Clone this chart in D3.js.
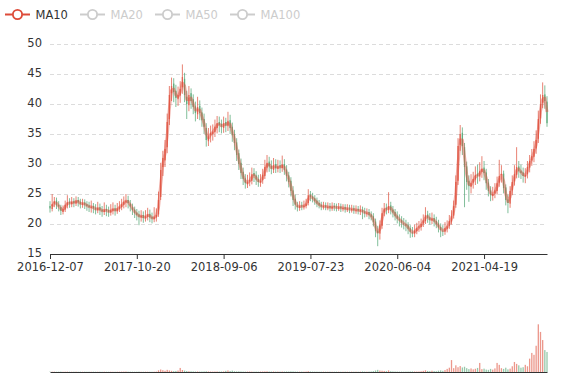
<!DOCTYPE html>
<html><head><meta charset="utf-8">
<script src="https://cdn.jsdelivr.net/npm/d3@7"></script>
<style>body{margin:0;background:#fff}svg{display:block}text{font-family:'DejaVu Sans',sans-serif}</style>
</head><body><svg id="c" width="577" height="380"></svg>
<script>
// Each candle summarises about one trading week
const tickLabels = ['2016-12-07','2017-10-20','2018-09-06','2019-07-23','2020-06-04','2021-04-19'];
const tickIndex = [0, 40, 80, 120, 160, 200];
const yTicks = [15, 20, 25, 30, 35, 40, 45, 50];
const legendNames = ['MA10', 'MA20', 'MA50', 'MA100'];
const legendShown = [true, false, false, false];
const maCandles = 2; // MA10 = 10 sessions = 2 weekly candles

const opens = [
23.0,22.5,23.4,23.9,23.2,22.8,22.0,22.4,23.1,23.7,
23.3,23.8,23.4,24.0,23.7,23.2,23.6,23.3,23.1,22.7,
23.0,22.7,22.3,22.8,22.4,22.0,22.5,22.3,21.9,22.2,
22.6,22.1,22.5,22.8,23.2,23.6,24.0,23.4,22.8,22.4,
21.9,21.6,21.1,21.5,20.9,21.2,21.7,21.2,20.8,21.1,
21.6,24.5,29.5,30.6,32.8,37.5,41.8,43.4,42.2,40.8,
41.4,42.8,44.2,41.2,39.8,41.8,40.8,39.6,38.3,39.7,
38.6,37.5,36.0,33.8,34.8,35.0,35.3,36.0,37.0,36.7,
36.0,37.0,36.3,37.3,36.2,35.0,33.6,31.8,30.2,28.7,
27.6,26.6,27.1,27.2,28.5,28.1,27.5,26.9,27.3,28.0,
29.4,30.4,29.7,29.0,30.0,29.2,29.8,29.3,30.0,29.1,
28.1,27.2,25.6,24.2,23.1,22.7,23.1,22.8,23.0,23.5,
24.9,24.6,24.3,23.9,23.5,23.2,22.8,23.1,22.7,23.0,
22.6,23.0,22.9,22.6,22.9,22.5,22.8,22.4,22.7,22.3,
22.6,22.2,22.5,22.1,22.4,22.1,21.7,22.0,21.6,21.3,
20.4,18.9,18.4,19.7,21.9,22.7,22.3,23.1,22.4,22.0,
21.4,20.8,20.7,20.1,20.0,19.8,19.3,18.6,18.4,18.8,
19.4,19.5,20.1,20.5,21.6,21.1,20.6,21.0,20.5,20.1,
19.5,18.9,18.7,19.2,19.7,20.4,21.4,23.2,27.2,33.2,
35.2,32.8,29.6,27.2,26.2,26.9,27.4,28.4,27.9,28.7,
29.4,28.6,26.9,25.6,24.7,25.1,25.5,26.9,28.2,28.4,
26.1,24.1,23.4,25.6,27.1,28.2,29.6,28.9,28.6,27.9,
28.3,29.4,30.6,31.2,32.6,34.2,37.6,40.2,41.6,40.4];

const closes = [
22.6,23.3,23.8,23.1,22.9,22.2,22.5,23.2,23.6,23.4,
23.7,23.5,23.9,23.6,23.3,23.5,23.2,23.0,22.8,22.9,
22.6,22.4,22.7,22.3,22.1,22.4,22.2,22.0,22.3,22.5,
22.2,22.6,22.9,23.3,23.7,23.9,23.5,22.9,22.3,21.8,
21.5,21.2,21.4,21.0,21.3,21.6,21.1,20.9,21.2,21.5,
24.0,29.0,31.0,32.5,37.0,41.5,43.0,42.0,41.0,41.5,
42.5,44.5,41.5,40.0,41.5,40.5,39.5,38.5,39.5,38.5,
37.3,36.2,34.0,34.6,35.2,35.4,36.2,36.8,36.5,36.2,
36.8,36.4,37.2,36.0,34.8,33.5,31.5,30.0,28.5,27.5,
26.8,27.0,27.3,28.3,28.0,27.4,27.0,27.2,28.2,29.5,
30.2,29.6,29.2,29.8,29.3,29.6,29.4,29.9,29.0,28.0,
27.0,25.5,24.0,23.2,22.8,23.0,22.9,23.1,23.4,24.8,
24.5,24.2,23.8,23.4,23.1,22.9,23.0,22.8,22.9,22.7,
22.9,22.8,22.7,22.8,22.6,22.7,22.5,22.6,22.4,22.5,
22.3,22.4,22.2,22.3,22.0,21.8,21.9,21.5,21.2,20.3,
18.8,18.5,19.8,21.8,22.6,22.4,23.0,22.3,21.9,21.3,
20.9,20.6,20.2,20.0,19.7,19.2,18.7,18.5,18.9,19.3,
19.6,20.0,20.6,21.5,21.0,20.7,20.9,20.4,20.0,19.4,
19.0,18.8,19.3,19.6,20.5,21.3,23.0,27.0,33.0,35.0,
33.0,29.5,27.0,26.3,26.8,27.5,28.2,28.0,28.8,29.2,
28.5,26.8,25.5,24.8,25.0,25.6,26.8,28.0,28.3,26.0,
24.0,23.5,25.5,27.0,28.3,29.5,28.8,28.5,28.0,28.2,
29.5,30.5,31.3,32.5,34.0,37.5,40.0,41.5,40.5,36.8];

const lows = [
21.9,22.1,22.8,22.5,22.1,21.5,21.6,22.0,22.6,22.7,
22.8,22.8,23.0,22.9,22.6,22.7,22.5,22.2,22.0,21.9,
21.8,21.6,21.8,21.5,21.2,21.5,21.3,21.2,21.4,21.6,
21.4,21.7,22.0,22.3,22.6,22.8,22.6,22.1,21.5,21.0,
20.6,19.8,20.4,20.2,20.4,20.6,20.3,20.1,20.3,20.4,
21.2,24.0,28.0,29.5,31.8,36.5,40.5,40.3,39.5,39.7,
40.2,41.7,40.3,37.5,38.8,39.2,38.3,37.1,37.5,37.3,
36.2,35.0,32.9,33.0,33.6,33.9,34.5,35.1,35.3,35.1,
35.2,35.3,35.5,35.0,33.7,32.3,30.5,29.0,27.5,26.5,
25.9,26.0,26.3,26.6,27.0,26.5,26.2,26.2,26.7,27.5,
28.6,28.7,28.3,28.5,28.5,28.6,28.5,28.7,28.2,27.1,
26.1,24.6,23.0,22.4,22.1,22.2,22.3,22.4,22.6,23.1,
23.8,23.6,23.2,22.8,22.6,22.3,22.4,22.3,22.3,22.1,
22.2,22.2,22.1,22.2,22.0,22.1,21.9,22.0,21.8,21.9,
21.7,21.7,21.6,21.5,20.8,21.1,21.2,20.8,20.6,19.6,
17.8,16.3,17.4,19.2,21.3,21.6,21.8,21.6,21.1,20.6,
20.1,19.6,19.4,19.1,18.8,18.3,17.7,17.8,17.8,18.3,
18.7,18.9,19.5,20.0,20.2,19.9,20.0,19.6,19.3,18.6,
17.8,18.0,18.2,18.6,19.2,19.9,20.9,22.7,26.5,32.2,
31.5,22.8,25.7,23.7,25.1,25.9,26.5,26.7,27.1,27.7,
27.3,25.7,24.6,23.8,23.9,24.3,24.9,26.2,26.9,25.1,
23.1,21.8,22.7,24.8,26.4,27.6,27.7,27.5,26.9,26.8,
27.6,28.6,29.7,30.3,31.7,33.5,36.7,39.3,39.2,36.2];

const highs = [
23.8,25.0,24.5,24.4,23.8,23.2,23.1,23.9,24.8,24.3,
24.5,24.3,24.6,24.5,24.2,24.2,24.1,23.8,23.7,23.9,
23.5,23.3,23.7,23.4,23.0,23.6,23.2,22.9,23.3,23.6,
23.2,23.5,23.8,24.2,24.6,25.0,24.7,24.0,23.4,22.9,
22.5,22.2,22.3,22.1,22.3,22.7,22.4,21.9,22.8,22.6,
25.4,30.2,32.2,34.0,38.4,43.0,44.4,44.3,43.2,42.9,
43.8,46.6,45.2,42.2,43.0,42.6,41.6,40.4,41.2,40.6,
39.4,38.4,36.8,36.0,36.4,36.6,37.4,38.0,37.9,37.4,
37.9,37.7,38.7,38.2,36.9,35.7,34.3,32.4,30.9,29.4,
28.3,28.2,28.6,29.4,29.3,28.8,28.2,28.3,29.2,30.7,
31.5,31.2,30.6,31.0,30.8,30.7,30.6,31.4,30.8,29.8,
28.7,27.8,26.3,24.9,23.7,23.8,23.7,23.9,24.2,25.8,
25.5,25.2,24.8,24.4,24.0,23.7,23.7,23.6,23.6,23.5,
23.6,23.5,23.4,23.5,23.4,23.3,23.3,23.3,23.2,23.2,
23.1,23.1,23.0,23.1,22.9,22.7,22.6,22.5,22.1,21.8,
20.9,19.7,20.6,22.7,23.5,23.4,25.3,23.7,23.0,22.5,
22.1,21.6,21.3,21.0,20.7,20.3,19.8,19.5,19.9,20.2,
20.5,20.9,21.6,22.8,22.2,21.8,21.9,21.6,21.2,20.7,
20.1,19.8,20.3,20.6,21.5,22.3,23.9,28.1,34.3,36.5,
36.1,33.5,30.4,28.1,28.3,28.7,29.6,29.9,30.3,31.3,
30.5,29.2,27.5,26.3,26.2,26.8,27.9,30.7,29.8,28.9,
26.6,24.9,26.3,28.1,29.8,32.8,30.5,29.9,29.4,29.3,
30.5,31.5,32.5,33.8,35.6,38.9,41.6,43.6,43.1,41.3];

const volumes = [
0.8,0.6,0.7,0.5,0.6,0.8,0.5,0.6,0.7,0.6,
0.5,0.6,0.7,0.5,0.6,0.5,0.6,0.5,0.6,0.5,
0.6,0.5,0.5,0.6,0.5,0.6,0.5,0.5,0.6,0.5,
0.5,0.6,0.6,0.7,0.8,1.0,0.7,0.6,0.6,0.5,
0.6,0.8,0.5,0.5,0.6,0.5,0.5,0.5,0.6,0.8,
3.5,5.2,3.8,2.6,4.5,3.2,2.4,1.8,2.2,3.0,
8.5,4.2,3.0,2.0,1.6,1.4,1.2,1.0,1.1,0.9,
1.0,1.2,1.5,1.1,0.9,0.8,1.0,1.1,0.9,1.0,
1.2,2.4,3.2,2.0,2.8,1.6,1.2,1.4,1.1,0.9,
0.8,0.9,1.0,0.8,0.7,0.8,0.7,0.9,1.0,1.2,
1.4,1.0,0.9,1.1,0.8,0.9,0.8,1.0,0.9,1.1,
1.0,1.3,1.2,0.9,0.8,0.7,0.8,0.7,0.9,1.6,
1.0,0.8,0.7,0.7,0.6,0.6,0.7,0.6,0.6,0.7,
0.6,0.6,0.7,0.6,0.6,0.6,0.7,0.6,0.6,0.7,
0.6,0.7,0.6,0.7,1.2,0.8,0.7,0.9,1.1,1.8,
3.2,4.5,3.0,2.6,2.2,1.8,3.4,1.6,1.2,1.0,
0.9,0.8,0.8,0.7,0.8,0.9,1.1,1.2,1.0,0.9,
1.0,1.5,2.4,3.6,2.2,1.8,2.6,1.9,1.6,2.8,
3.4,2.5,4.0,6.5,9.0,25.0,8.0,14.0,10.0,12.5,
9.5,11.0,8.0,6.0,7.5,5.5,6.8,8.5,19.0,6.0,
7.0,5.0,4.5,6.5,5.0,7.5,19.0,15.0,8.0,6.5,
9.0,5.5,7.0,12.0,21.0,17.0,14.0,9.0,10.0,15.0,
12.0,28.0,40.0,36.0,55.0,100,84,67,46,42];

const upColor = '#e0533f', downColor = '#52a673', maColor = '#dd4b39';
const FONT = "'DejaVu Sans',sans-serif", FS = 11.5;
const N = closes.length;
const svg = d3.select('#c');

const x = d3.scalePoint().domain(d3.range(N)).range([50, 547]);
const y = d3.scaleLinear().domain([15, 50]).range([254, 44]);
const yv = d3.scaleLinear().domain([0, 130]).range([372, 310]);

// split lines
svg.append('g').selectAll('line').data(yTicks.slice(1)).join('line')
  .attr('x1', 50).attr('x2', 547)
  .attr('y1', d => Math.round(y(d)) + 0.5).attr('y2', d => Math.round(y(d)) + 0.5)
  .attr('stroke', '#dcdcdc').attr('stroke-dasharray', '4,3');

// y labels
svg.append('g').selectAll('text').data(yTicks).join('text')
  .attr('x', 42).attr('y', d => y(d) - 0.8).attr('dy', '0.36em')
  .attr('text-anchor', 'end').attr('font-size', FS).attr('fill', '#333')
  .text(d => d);

const idx = d3.range(N);
const isUp = i => closes[i] >= opens[i];
const bw = 1.3;

// candles
const cg = svg.append('g').attr('opacity', 0.9);
cg.selectAll('line').data(idx).join('line')
  .attr('x1', i => x(i)).attr('x2', i => x(i))
  .attr('y1', i => y(highs[i])).attr('y2', i => y(lows[i]))
  .attr('stroke', i => isUp(i) ? upColor : downColor).attr('stroke-width', 0.8);
cg.selectAll('rect').data(idx).join('rect')
  .attr('x', i => x(i) - bw / 2).attr('width', bw)
  .attr('y', i => y(Math.max(opens[i], closes[i])))
  .attr('height', i => Math.max(0.8, Math.abs(y(opens[i]) - y(closes[i]))))
  .attr('fill', i => isUp(i) ? upColor : downColor);

// MA10
const ma = idx.map(i => i < maCandles - 1 ? null : d3.mean(closes.slice(i - maCandles + 1, i + 1)));
svg.append('path').datum(idx)
  .attr('d', d3.line().defined(i => ma[i] != null).x(i => x(i)).y(i => y(ma[i])))
  .attr('fill', 'none').attr('stroke', maColor).attr('stroke-width', 3)
  .attr('stroke-opacity', 0.45).attr('stroke-linejoin', 'round');

// main x axis
const ax = svg.append('g').attr('transform', 'translate(0,254)')
  .call(d3.axisBottom(x).tickValues(tickIndex).tickFormat((d, k) => tickLabels[k])
    .tickSize(5).tickSizeOuter(0).tickPadding(4));
ax.select('.domain').attr('stroke', '#333');
ax.selectAll('.tick line').attr('stroke', '#333');
ax.selectAll('.tick text').attr('font-size', FS).attr('fill', '#333')
  .attr('font-family', FONT);

// volume bars
svg.append('g').attr('opacity', 0.6).selectAll('rect').data(idx).join('rect')
  .attr('x', i => x(i) - bw / 2).attr('width', bw)
  .attr('y', i => yv(volumes[i])).attr('height', i => yv(0) - yv(volumes[i]))
  .attr('fill', i => isUp(i) ? upColor : downColor);

const vx = svg.append('g').attr('transform', 'translate(0,372)')
  .call(d3.axisBottom(x).tickValues([]).tickSizeOuter(0));
vx.select('.domain').attr('stroke', '#333');

// legend
const lg = svg.append('g').selectAll('g').data(legendNames).join('g')
  .attr('transform', (d, k) => `translate(${5 + k * 75},0)`);
const lc = (d, k) => legendShown[k] ? maColor : '#ccc';
lg.append('line').attr('x1', 0).attr('x2', 25).attr('y1', 14.5).attr('y2', 14.5)
  .attr('stroke', lc).attr('stroke-width', 2);
lg.append('circle').attr('cx', 12.5).attr('cy', 14.5).attr('r', 4.6)
  .attr('fill', '#fff').attr('stroke', lc).attr('stroke-width', 1.8);
lg.append('text').attr('x', 30.5).attr('y', 19).attr('font-size', FS)
  .attr('fill', (d, k) => legendShown[k] ? '#333' : '#ccc').text(d => d);
</script></body></html>
